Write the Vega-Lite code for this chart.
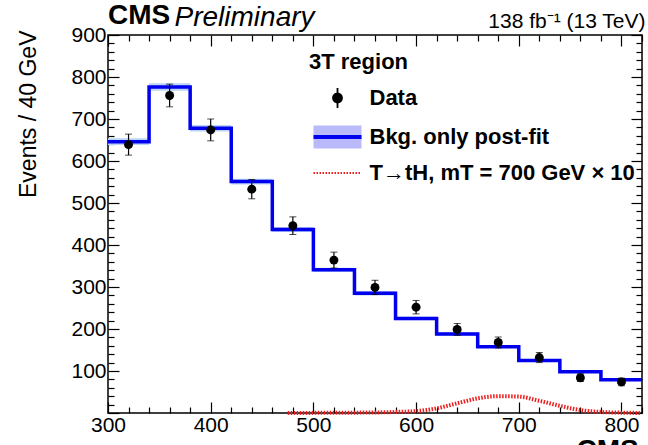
{
  "$schema": "https://vega.github.io/schema/vega-lite/v6.json",
  "width": 534,
  "height": 378,
  "autosize": {"type": "none"},
  "padding": {"left": 108, "top": 35, "right": 6, "bottom": 32},
  "background": "white",
  "title": {"text": "CMS", "anchor": "start", "frame": "group", "font": "Liberation Sans", "fontSize": 28, "fontWeight": "bold", "color": "black", "offset": 0, "baseline": "alphabetic", "dy": 49},
  "datasets": {
    "bkg": [
      {"x": 300, "y": 646, "lo": 638, "hi": 654},
      {"x": 340, "y": 776, "lo": 767, "hi": 785},
      {"x": 380, "y": 678, "lo": 670, "hi": 686},
      {"x": 420, "y": 551, "lo": 544, "hi": 558},
      {"x": 460, "y": 437, "lo": 431, "hi": 443},
      {"x": 500, "y": 341, "lo": 336, "hi": 346},
      {"x": 540, "y": 285, "lo": 280, "hi": 290},
      {"x": 580, "y": 225, "lo": 221, "hi": 229},
      {"x": 620, "y": 188, "lo": 184, "hi": 192},
      {"x": 660, "y": 158, "lo": 155, "hi": 161},
      {"x": 700, "y": 125, "lo": 122, "hi": 128},
      {"x": 740, "y": 98, "lo": 95, "hi": 101},
      {"x": 780, "y": 79, "lo": 76, "hi": 82},
      {"x": 820, "y": 79, "lo": 76, "hi": 82}
    ],
    "obs": [
      {"x": 320, "y": 639, "e": 25},
      {"x": 360, "y": 756, "e": 27},
      {"x": 400, "y": 674, "e": 26},
      {"x": 440, "y": 533, "e": 23},
      {"x": 480, "y": 446, "e": 21},
      {"x": 520, "y": 364, "e": 19},
      {"x": 560, "y": 299, "e": 17},
      {"x": 600, "y": 252, "e": 16},
      {"x": 640, "y": 199, "e": 14},
      {"x": 680, "y": 168, "e": 13},
      {"x": 720, "y": 132, "e": 12},
      {"x": 760, "y": 84, "e": 9},
      {"x": 800, "y": 74, "e": 9}
    ],
    "sig": [
      {"x": 475, "y": 0},
      {"x": 500, "y": 0.3},
      {"x": 520, "y": 0.5},
      {"x": 540, "y": 0.8},
      {"x": 560, "y": 1.3},
      {"x": 580, "y": 2.5},
      {"x": 600, "y": 4.5},
      {"x": 620, "y": 11},
      {"x": 640, "y": 23},
      {"x": 660, "y": 35},
      {"x": 680, "y": 40},
      {"x": 700, "y": 39},
      {"x": 720, "y": 29},
      {"x": 740, "y": 17},
      {"x": 760, "y": 7},
      {"x": 780, "y": 2.5},
      {"x": 800, "y": 0.8},
      {"x": 818, "y": 0.2}
    ]
  },
  "layer": [
    {
      "data": {"name": "bkg"},
      "mark": {"type": "area", "interpolate": "step-after", "color": "#b9d4f4", "opacity": 1},
      "encoding": {
        "x": {"field": "x", "type": "quantitative", "scale": {"domain": [300, 820], "nice": false, "zero": false},
          "axis": {"orient": "bottom", "values": [300,320,340,360,380,400,420,440,460,480,500,520,540,560,580,600,620,640,660,680,700,720,740,760,780,800,820],
            "tickWidth": 1.2, "tickSize": {"condition": {"test": "datum.value % 100 === 0", "value": -11}, "value": -6},
            "labelExpr": "datum.value % 100 === 0 ? datum.label : ''", "labelFontSize": 21, "labelPadding": 12, "labelFlush": false, "labelOverlap": false,
            "title": "CMS", "titleFontSize": 28, "titleFontWeight": "bold", "titleX": 468, "titleY": 45, "titleAlign": "left", "titleBaseline": "alphabetic"}},
        "y": {"field": "lo", "type": "quantitative", "scale": {"domain": [0, 900], "nice": false, "zero": false},
          "axis": {"orient": "left", "values": [0,20,40,60,80,100,120,140,160,180,200,220,240,260,280,300,320,340,360,380,400,420,440,460,480,500,520,540,560,580,600,620,640,660,680,700,720,740,760,780,800,820,840,860,880,900],
            "tickWidth": 1.2, "tickSize": {"condition": {"test": "datum.value % 100 === 0", "value": -11}, "value": -6},
            "labelExpr": "datum.value % 100 === 0 && datum.value > 0 ? datum.label : ''", "labelFontSize": 21, "labelPadding": 13, "labelFlush": false, "labelOverlap": false,
            "title": "Events / 40 GeV", "titleFontSize": 23, "titleFontWeight": "normal", "titleAngle": -90, "titleX": -80, "titleY": -5, "titleAlign": "right", "titleBaseline": "middle"}},
        "y2": {"field": "hi"}
      }
    },
    {
      "data": {"name": "bkg"},
      "mark": {"type": "line", "interpolate": "step-after", "strokeWidth": 3.5},
      "encoding": {
        "x": {"field": "x", "type": "quantitative", "scale": {"domain": [300, 820], "nice": false, "zero": false},
          "axis": {"orient": "top", "values": [300,320,340,360,380,400,420,440,460,480,500,520,540,560,580,600,620,640,660,680,700,720,740,760,780,800,820],
            "tickWidth": 1.2, "tickSize": {"condition": {"test": "datum.value % 100 === 0", "value": -11}, "value": -6},
            "labels": false, "title": "Preliminary", "titleFontSize": 28, "titleFontStyle": "italic", "titleFontWeight": "normal", "titleX": 66, "titleY": -10, "titleAlign": "left", "titleBaseline": "alphabetic", "titleAngle": 0}},
        "y": {"field": "y", "type": "quantitative", "scale": {"domain": [0, 900], "nice": false, "zero": false},
          "axis": {"orient": "right", "values": [0,20,40,60,80,100,120,140,160,180,200,220,240,260,280,300,320,340,360,380,400,420,440,460,480,500,520,540,560,580,600,620,640,660,680,700,720,740,760,780,800,820,840,860,880,900],
            "tickWidth": 1.2, "tickSize": {"condition": {"test": "datum.value % 100 === 0", "value": -11}, "value": -6},
            "labels": false, "title": "138 fb⁻¹ (13 TeV)", "titleFontSize": 21, "titleFontWeight": "normal", "titleAngle": 0, "titleX": 3, "titleY": -8, "titleAlign": "right", "titleBaseline": "alphabetic"}},
        "color": {"datum": "Bkg. only post-fit", "type": "nominal",
          "scale": {"domain": ["Data", "Bkg. only post-fit", "T→tH, mT = 700 GeV × 10"], "range": ["black", "#0000ee", "#ee1c1c"]},
          "legend": {
            "title": "3T region", "orient": "none", "legendX": 201, "legendY": 17, "padding": 0,
            "titleFont": "Liberation Sans", "titleFontSize": 22, "titleFontWeight": "bold", "titleColor": "black", "titlePadding": 13,
            "labelFont": "Liberation Sans", "labelFontSize": 22, "labelFontWeight": "bold", "labelColor": "black", "labelLimit": 0, "labelOffset": 21,
            "symbolSize": 1024, "symbolOffset": 17.5, "rowPadding": 5,
            "encode": {
              "symbols": {
                "update": {
                  "shape": {"signal": "datum.value === 'Data' ? 'M0,-0.625V0.625M-0.28,0A0.28,0.28,0,1,1,0.28,0A0.28,0.28,0,1,1,-0.28,0' : datum.value === 'Bkg. only post-fit' ? 'M-1.5,0H1.5V-0.72H-1.5Z M-1.5,0H1.5V0.72H-1.5Z' : 'M-1.5,0H1.5'"},
                  "fill": {"signal": "datum.value === 'Data' ? 'black' : datum.value === 'Bkg. only post-fit' ? '#bcd6f4' : 'transparent'"},
                  "fillOpacity": {"signal": "datum.value === 'Bkg. only post-fit' ? 0.27 : 1"},
                  "stroke": {"signal": "datum.value === 'Data' ? 'black' : datum.value === 'Bkg. only post-fit' ? '#0000ee' : '#ee1c1c'"},
                  "strokeWidth": {"signal": "datum.value === 'Bkg. only post-fit' ? 4 : 1.8"},
                  "strokeDash": {"signal": "datum.value === 'Data' ? [1, 0] : datum.value === 'Bkg. only post-fit' ? [48, 500] : [1.5, 1.5]"},
                  "opacity": {"value": 1}
                }
              }
            }
          }
        }
      }
    },
    {
      "data": {"name": "sig"},
      "mark": {"type": "line", "interpolate": "monotone", "strokeWidth": 4, "strokeDash": [1.5, 1.5]},
      "encoding": {
        "x": {"field": "x", "type": "quantitative", "scale": {"domain": [300, 820], "nice": false, "zero": false}, "axis": null},
        "y": {"field": "y", "type": "quantitative", "scale": {"domain": [0, 900], "nice": false, "zero": false}, "axis": null},
        "color": {"datum": "T→tH, mT = 700 GeV × 10", "type": "nominal"}
      }
    },
    {
      "data": {"name": "obs"},
      "mark": {"type": "errorbar", "color": "black", "ticks": {"size": 7, "strokeWidth": 1.2}, "rule": {"strokeWidth": 1.2}},
      "encoding": {
        "x": {"field": "x", "type": "quantitative", "scale": {"domain": [300, 820], "nice": false, "zero": false}, "axis": null},
        "y": {"field": "y", "type": "quantitative", "scale": {"domain": [0, 900], "nice": false, "zero": false}, "axis": null},
        "yError": {"field": "e"}
      }
    },
    {
      "data": {"name": "obs"},
      "mark": {"type": "point", "filled": true, "size": 80, "opacity": 1, "shape": "circle"},
      "encoding": {
        "x": {"field": "x", "type": "quantitative", "scale": {"domain": [300, 820], "nice": false, "zero": false}, "axis": null},
        "y": {"field": "y", "type": "quantitative", "scale": {"domain": [0, 900], "nice": false, "zero": false}, "axis": null},
        "color": {"datum": "Data", "type": "nominal", "legend": null}
      }
    }
  ],
  "config": {
    "font": "Liberation Sans",
    "view": {"stroke": "black", "strokeWidth": 1.5},
    "axis": {"grid": false, "domain": false, "labelColor": "black", "titleColor": "black", "tickColor": "black", "labelFont": "Liberation Sans", "titleFont": "Liberation Sans"}
  }
}
